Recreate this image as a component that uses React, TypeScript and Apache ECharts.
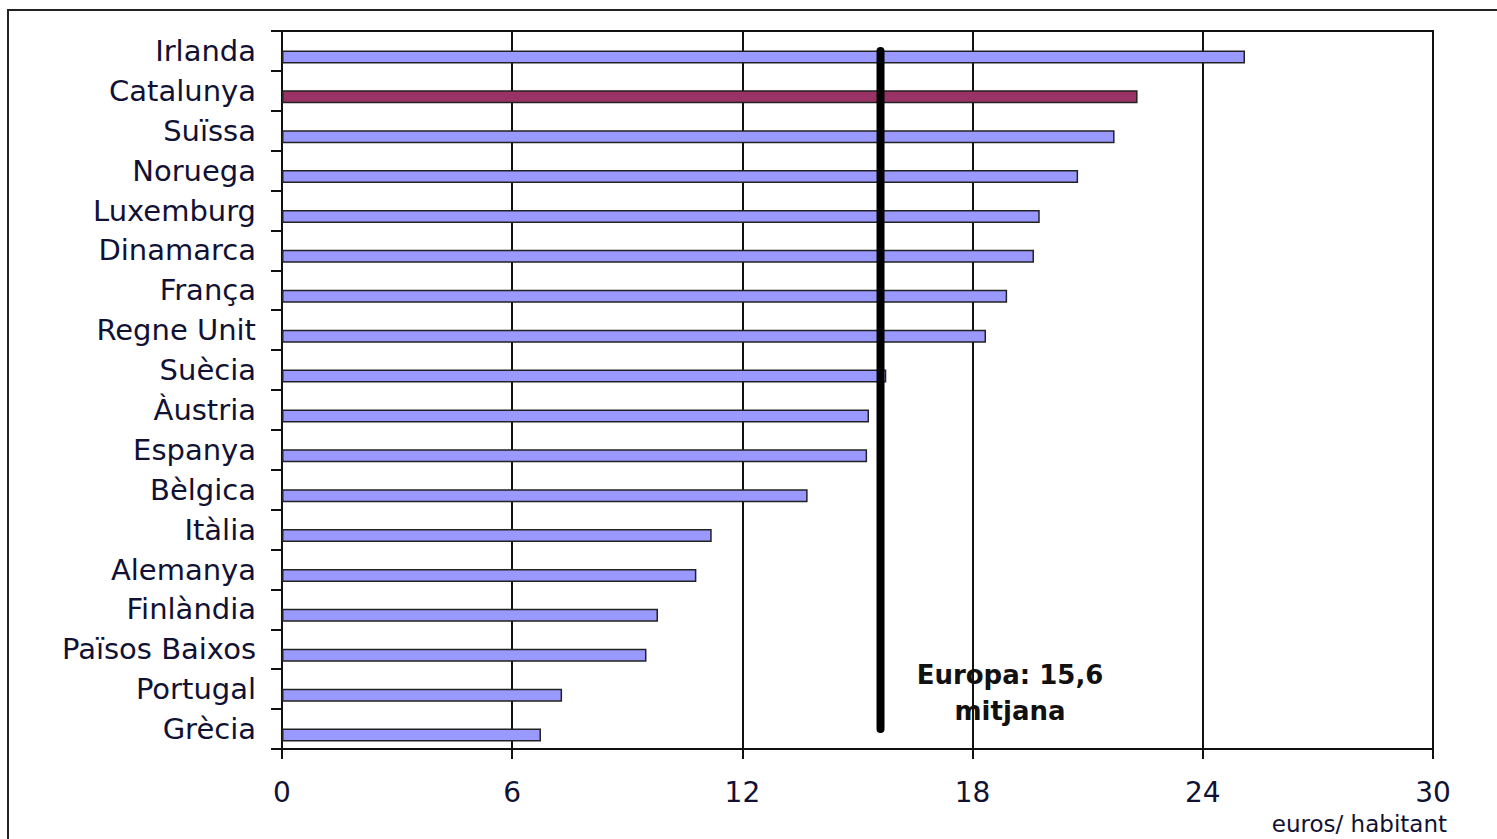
import React, { useEffect, useRef } from "react";
import * as echarts from "echarts";

const categories = [
  "Irlanda", "Catalunya", "Suïssa", "Noruega", "Luxemburg", "Dinamarca", "França",
  "Regne Unit", "Suècia", "Àustria", "Espanya", "Bèlgica", "Itàlia", "Alemanya",
  "Finlàndia", "Països Baixos", "Portugal", "Grècia",
];
const values = [
  25.1, 22.3, 21.7, 20.75, 19.75, 19.6, 18.9, 18.35, 15.75, 15.3, 15.25, 13.7,
  11.2, 10.8, 9.8, 9.5, 7.3, 6.75,
];
const highlight = "Catalunya";
const europeAverage = 15.6;
const xTicks = { min: 0, max: 30, interval: 6 };
const unitLabel = "euros/ habitant";
const averageLabel = "Europa: 15,6\nmitjana";

export default function App() {
  const ref = useRef<HTMLDivElement>(null);
  useEffect(() => {
    if (!ref.current) return;
    const chart = echarts.init(ref.current, null, { renderer: "svg" });
    const font = "DejaVu Sans";
    chart.setOption({
      animation: false,
      backgroundColor: "#fff",
      grid: { left: 282, top: 31, right: 64, bottom: 90, show: true, borderColor: "#111", borderWidth: 2, backgroundColor: "transparent" },
      xAxis: {
        type: "value",
        min: xTicks.min,
        max: xTicks.max,
        interval: xTicks.interval,
        axisLine: { show: true, lineStyle: { color: "#111", width: 2 } },
        axisTick: { show: true, length: 10, lineStyle: { color: "#111", width: 2 } },
        splitLine: { show: true, lineStyle: { color: "#111", width: 2 } },
        axisLabel: { fontFamily: font, fontSize: 28, lineHeight: 24, color: "#111133", margin: 31 },
      },
      yAxis: {
        type: "category",
        inverse: true,
        data: categories,
        axisLine: { show: true, lineStyle: { color: "#111", width: 2 } },
        axisTick: { show: true, length: 11, lineStyle: { color: "#111", width: 2 } },
        splitLine: { show: false },
        axisLabel: { fontFamily: font, fontSize: 29, color: "#111133", margin: 26 },
      },
      series: [
        {
          type: "bar",
          data: categories.map(() => 0),
          barWidth: 13,
          barGap: "-8%",
          silent: true,
          itemStyle: { color: "transparent", borderWidth: 0 },
        },
        {
          type: "bar",
          barWidth: 13,
          data: values.map((v, i) => ({
            value: v,
            itemStyle: {
              color: categories[i] === highlight ? "#993366" : "#9999ff",
              borderColor: "#222",
              borderWidth: 1.5,
            },
          })),
        },
        {
          type: "line",
          silent: true,
          symbol: "none",
          z: 5,
          data: [
            [europeAverage, categories[0]],
            [europeAverage, categories[categories.length - 1]],
          ],
          lineStyle: { color: "#000", width: 8, type: "solid", cap: "round" },
        },
      ],
      graphic: [
        {
          type: "rect",
          silent: true,
          z: -1,
          shape: { x: 8, y: 10, width: 1530, height: 880 },
          style: { fill: "none", stroke: "#222", lineWidth: 2 },
        },
        {
          type: "text",
          x: 1010,
          y: 693,
          style: {
            text: averageLabel,
            font: "bold 26px 'DejaVu Sans'",
            fill: "#111",
            align: "center",
            verticalAlign: "middle",
            lineHeight: 36,
          },
        },
        {
          type: "text",
          x: 1447,
          y: 824,
          style: {
            text: unitLabel,
            font: "23px 'DejaVu Sans'",
            fill: "#111133",
            align: "right",
            verticalAlign: "middle",
            lineHeight: 20,
          },
        },
      ],
    });
    return () => chart.dispose();
  }, []);
  return (
    <div
      ref={ref}
      style={{ position: "fixed", left: 0, top: 0, width: 1497, height: 839 }}
    />
  );
}
